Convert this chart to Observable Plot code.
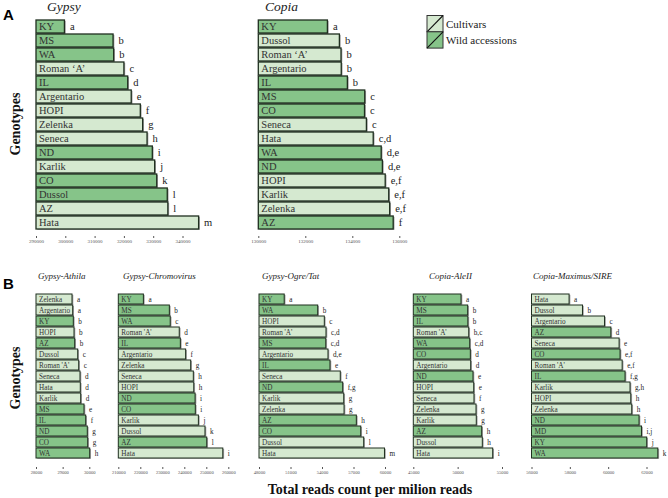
<!DOCTYPE html>
<html><head><meta charset="utf-8">
<script src="https://cdn.jsdelivr.net/npm/d3@7"></script>
<script src="https://cdn.jsdelivr.net/npm/@observablehq/plot@0.6"></script>
<style>
body{margin:0;background:#fff;}
#chart{position:relative;width:668px;height:498px;overflow:hidden;font-family:"Liberation Serif",serif;background:#fff;}
#chart svg{position:absolute;left:0;top:0;}
#chart svg text{font-family:"Liberation Serif",serif;}
</style></head><body><div id="chart"></div>
<script>
const LIGHT = "#d5e9d0", DARK = "#86c489", EDGE = "#1f2f1f";
const SERIF = "Liberation Serif";

// ---- Panel A: Gypsy ----
const gypsyGenotypes = ["KY","MS","WA","Roman ‘A’","IL","Argentario","HOPI","Zelenka","Seneca","ND","Karlik","CO","Dussol","AZ","Hata"];
const gypsyValues = [299700,316300,316500,320000,321300,322500,325600,326400,327900,329700,330500,331200,334800,335000,345500];
const gypsyLetters = ["a","b","b","c","d","e","f","g","h","i","j","k","l","l","m"];
const gypsyWild = [1,1,1,0,1,0,0,0,0,1,0,1,1,0,0];
const gypsyTicks = [290000,300000,310000,320000,330000,340000];

// ---- Panel A: Copia ----
const copiaGenotypes = ["KY","Dussol","Roman ‘A’","Argentario","IL","MS","CO","Seneca","Hata","WA","ND","HOPI","Karlik","Zelenka","AZ"];
const copiaValues = [132940,133450,133520,133530,133790,134530,134520,134600,134890,135230,135280,135400,135550,135590,135740];
const copiaLetters = ["a","b","b","b","b","c","c","c","c,d","d,e","d,e","e,f","e,f","e,f","f"];
const copiaWild = [1,0,0,0,1,1,1,0,0,1,1,0,0,0,1];
const copiaTicks = [130000,132000,134000,136000];

// ---- Panel B: Gypsy-Athila ----
const athilaGenotypes = ["Zelenka","Argentario","KY","HOPI","AZ","Dussol","Roman 'A'","Seneca","Hata","Karlik","MS","IL","ND","CO","WA"];
const athilaValues = [29351,29377,29400,29426,29452,29565,29602,29651,29662,29677,29801,29865,29925,29940,30015];
const athilaLetters = ["a","a","b","b","b","c","c","d","d","d","e","f","g","g","h"];
const athilaWild = [0,0,1,0,1,0,0,0,0,0,1,1,1,1,1];
const athilaTicks = [28000,29000,30000];

// ---- Panel B: Gypsy-Chromovirus ----
const chromoGenotypes = ["KY","MS","WA","Roman 'A'","IL","Argentario","Zelenka","Seneca","HOPI","ND","CO","Karlik","Dussol","AZ","Hata"];
const chromoValues = [221400,233200,233600,237700,238200,240600,242900,244100,244300,244900,245000,246400,249400,250200,257500];
const chromoLetters = ["a","b","c","d","e","f","g","h","h","i","i","j","k","l","i"];
const chromoWild = [1,1,1,0,1,0,0,0,0,1,1,0,0,1,0];
const chromoTicks = [210000,220000,230000,240000,250000,260000];

// ---- Panel B: Gypsy-Ogre/Tat ----
const ogreGenotypes = ["KY","WA","HOPI","Roman 'A'","MS","Argentario","IL","Seneca","ND","Karlik","Zelenka","AZ","CO","Dussol","Hata"];
const ogreValues = [50400,53590,54220,54380,54360,54570,54760,55740,55970,56070,56100,57270,57690,57970,59950];
const ogreLetters = ["a","b","c","c,d","c,d","d,e","e","f","f,g","g","g","h","i","l","m"];
const ogreWild = [1,1,0,0,1,0,1,0,1,0,0,1,1,0,0];
const ogreTicks = [48000,51000,54000,57000,60000];

// ---- Panel B: Copia-AleII ----
const aleGenotypes = ["KY","MS","IL","Roman 'A'","WA","CO","Argentario","ND","HOPI","Seneca","Zelenka","Karlik","AZ","Dussol","Hata"];
const aleValues = [50380,51130,51150,51250,51360,51430,51470,51730,51810,51840,52070,52100,52710,52780,53950];
const aleLetters = ["a","b","b","b,c","c,d","d","d","e","e","f","g","g","h","h","i"];
const aleWild = [1,1,1,0,1,1,0,1,0,0,0,0,1,0,0];
const aleTicks = [45000,50000,55000];

// ---- Panel B: Copia-Maximus/SIRE ----
const sireGenotypes = ["Hata","Dussol","Argentario","AZ","Seneca","CO","Roman 'A'","IL","Karlik","HOPI","Zelenka","ND","MD","KY","WA"];
const sireValues = [57960,58660,59810,60140,60570,60620,60730,60880,61140,61180,61230,61610,61740,62010,62590];
const sireLetters = ["a","b","c","d","e","e,f","e,f","f,g","g,h","h","h","i","i,j","j","k"];
const sireWild = [0,0,0,1,0,1,0,1,0,0,0,1,1,1,1];
const sireTicks = [56000,58000,60000,62000];

const W = 668, H = 498;
const rowA = {top: 13, bottom: 236, po: 0.28, label: 10.5, letter: 10.5, tick: "5px", dx: 5, sw: 1.3};
const rowB = {top: 285.5, bottom: 467, po: 0.25, label: 7.2, letter: 7.2, tick: "4.6px", dx: 4.5, sw: 1};

const panels = [
  {g: gypsyGenotypes, v: gypsyValues, l: gypsyLetters, w: gypsyWild, t: gypsyTicks, d0: 290000, d1: 350000, x0: 36, x1: 211.8, row: rowA},
  {g: copiaGenotypes, v: copiaValues, l: copiaLetters, w: copiaWild, t: copiaTicks, d0: 130000, d1: 136000, x0: 258.3, x1: 399.3, row: rowA},
  {g: athilaGenotypes, v: athilaValues, l: athilaLetters, w: athilaWild, t: athilaTicks, d0: 28000, d1: 30000, x0: 36, x1: 89.3, row: rowB},
  {g: chromoGenotypes, v: chromoValues, l: chromoLetters, w: chromoWild, t: chromoTicks, d0: 210000, d1: 260000, x0: 118.3, x1: 228.3, row: rowB},
  {g: ogreGenotypes, v: ogreValues, l: ogreLetters, w: ogreWild, t: ogreTicks, d0: 48000, d1: 60000, x0: 259, x1: 385, row: rowB},
  {g: aleGenotypes, v: aleValues, l: aleLetters, w: aleWild, t: aleTicks, d0: 45000, d1: 55000, x0: 413.3, x1: 502, row: rowB},
  {g: sireGenotypes, v: sireValues, l: sireLetters, w: sireWild, t: sireTicks, d0: 56000, d1: 62000, x0: 531.5, x1: 646.5, row: rowB}
];

const chart = document.getElementById("chart");

for (const p of panels) {
  const r = p.row;
  const data = p.g.map((g, i) => ({g, v: p.v[i], l: p.l[i], c: p.w[i] ? DARK : LIGHT}));
  const base = () => p.d0;
  const svg = Plot.plot({
    width: W, height: H,
    marginTop: r.top, marginBottom: H - r.bottom, marginLeft: 0, marginRight: 0,
    style: {background: "transparent", fontFamily: SERIF, fontSize: r.tick, color: "#555", overflow: "visible"},
    x: {domain: [p.d0, p.d1], range: [p.x0, p.x1], ticks: p.t, tickSize: 2, tickPadding: 1, tickFormat: d => String(d), label: null},
    y: {domain: p.g, paddingInner: 0.1, paddingOuter: r.po, axis: null},
    marks: [
      Plot.barX(data, {x1: base, x2: "v", y: "g", fill: "#a0a0a0", dx: 1.3, dy: 0.8}),
      Plot.barX(data, {x1: base, x2: "v", y: "g", fill: "c", stroke: EDGE, strokeWidth: r.sw}),
      Plot.text(data, {x: base, y: "g", text: "g", textAnchor: "start", dx: 2.5, fontSize: r.label, fontFamily: SERIF, fill: "#333"}),
      Plot.text(data, {x: "v", y: "g", text: "l", textAnchor: "start", dx: r.dx, fontSize: r.letter, fontFamily: SERIF, fill: "#222"})
    ]
  });
  chart.appendChild(svg);
}

// annotations overlay: panel letters, titles, axis titles, legend
const titlesA = ["Gypsy", "Copia"];
const titlesB = ["Gypsy-Athila", "Gypsy-Chromovirus", "Gypsy-Ogre/Tat", "Copia-AleII", "Copia-Maximus/SIRE"];
const ov = d3.create("svg").attr("width", W).attr("height", H)
  .style("font-family", "'Liberation Serif', serif");

const titleAX = [47, 265];
titlesA.forEach((t, i) => ov.append("text").attr("x", titleAX[i]).attr("y", 11)
  .attr("font-size", 13.5).attr("font-style", "italic").attr("fill", "#222").text(t));
const titleBX = [38, 123, 262, 429, 533];
titlesB.forEach((t, i) => ov.append("text").attr("x", titleBX[i]).attr("y", 278.5)
  .attr("font-size", 9).attr("font-style", "italic").attr("fill", "#222").text(t));

ov.append("text").attr("x", 3).attr("y", 20).style("font-family", "'Liberation Sans', sans-serif")
  .attr("font-weight", "bold").attr("font-size", 15).text("A");
ov.append("text").attr("x", 3).attr("y", 289).style("font-family", "'Liberation Sans', sans-serif")
  .attr("font-weight", "bold").attr("font-size", 15).text("B");

[[20, 124], [20, 378]].forEach(([x, y]) => ov.append("text")
  .attr("transform", `translate(${x},${y}) rotate(-90)`).attr("text-anchor", "middle")
  .attr("font-weight", "bold").attr("font-size", 14).attr("fill", "#111").text("Genotypes"));

ov.append("text").attr("x", 370).attr("y", 494).attr("text-anchor", "middle")
  .attr("font-weight", "bold").attr("font-size", 14).attr("fill", "#111")
  .text("Total reads count per milion reads");

const legendLabels = ["Cultivars", "Wild accessions"];
const legendFills = [LIGHT, DARK];
legendLabels.forEach((t, i) => {
  const y0 = 15.5 + i * 16.3;
  ov.append("rect").attr("x", 427).attr("y", y0).attr("width", 16).attr("height", 16.3)
    .attr("fill", legendFills[i]).attr("stroke", "#333").attr("stroke-width", 1);
  ov.append("line").attr("x1", 427).attr("y1", y0 + 16.3).attr("x2", 443).attr("y2", y0)
    .attr("stroke", "#111").attr("stroke-width", 1.1);
  ov.append("text").attr("x", 446).attr("y", y0 + 12).attr("font-size", 11).attr("fill", "#222").text(t);
});
chart.appendChild(ov.node());
</script></body></html>
